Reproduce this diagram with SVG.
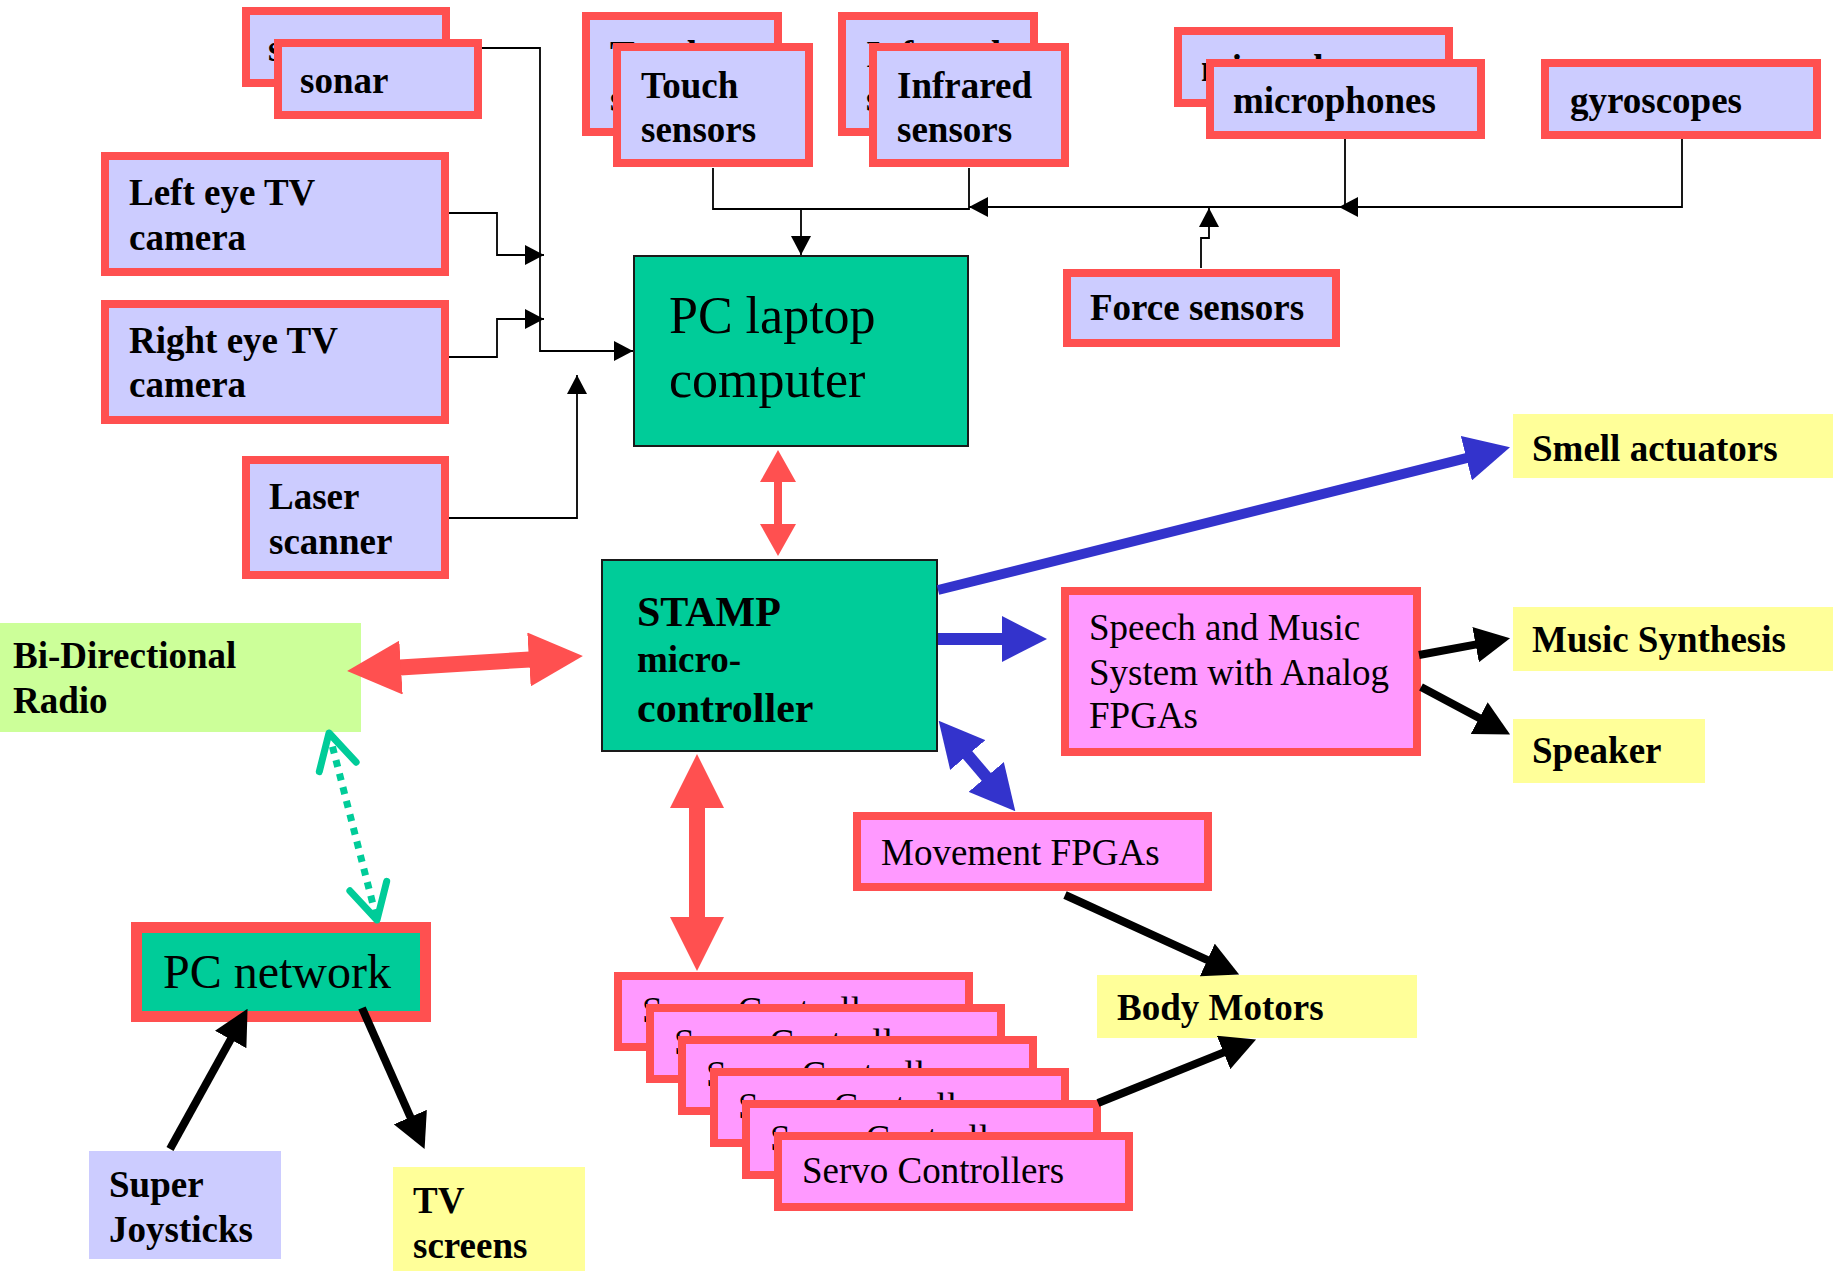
<svg xmlns="http://www.w3.org/2000/svg" width="1839" height="1271" viewBox="0 0 1839 1271">
  <style>
    .lav { fill: #CCCCFF; stroke: #FF5050; stroke-width: 8; }
    .pink { fill: #FF99FF; stroke: #FF5050; stroke-width: 8; }
    .cpu { fill: #00CC99; stroke: #1a1a1a; stroke-width: 2; }
    .b { font-family: "Liberation Serif", "Times New Roman", serif; font-weight: bold; font-size: 37px; fill: #000; }
    .r { font-family: "Liberation Serif", "Times New Roman", serif; font-size: 37px; fill: #000; }
    .thin { fill: none; stroke: #000; stroke-width: 1.8; }
    .red { fill: none; stroke: #FF5050; }
    .blue { fill: none; stroke: #3333CC; }
    .blk { fill: none; stroke: #000; stroke-width: 8; }
  </style>
  <defs>
    <marker id="tri" markerUnits="userSpaceOnUse" viewBox="0 0 19 20" markerWidth="19" markerHeight="20" refX="19" refY="10" orient="auto">
      <path d="M0,0 L19,10 L0,20 z" fill="#000"/>
    </marker>
    <marker id="redBig" markerUnits="userSpaceOnUse" viewBox="0 0 54 54" markerWidth="54" markerHeight="54" refX="1" refY="27" orient="auto-start-reverse">
      <path d="M0,0 L54,27 L0,54 z" fill="#FF5050"/>
    </marker>
    <marker id="redSmall" markerUnits="userSpaceOnUse" viewBox="0 0 32 36" markerWidth="32" markerHeight="36" refX="1" refY="18" orient="auto-start-reverse">
      <path d="M0,0 L32,18 L0,36 z" fill="#FF5050"/>
    </marker>
    <marker id="blueHead" markerUnits="userSpaceOnUse" viewBox="0 0 45 46" markerWidth="45" markerHeight="46" refX="1" refY="23" orient="auto-start-reverse">
      <path d="M0,0 L45,23 L0,46 z" fill="#3333CC"/>
    </marker>
    <marker id="blkHead" markerUnits="userSpaceOnUse" viewBox="0 0 35 36" markerWidth="35" markerHeight="36" refX="1" refY="18" orient="auto">
      <path d="M0,0 L35,18 L0,36 z" fill="#000"/>
    </marker>
    <marker id="chev" markerUnits="userSpaceOnUse" viewBox="-40 -25 45 50" markerWidth="45" markerHeight="50" refX="0" refY="0" orient="auto-start-reverse">
      <path d="M-35,-19 L0,0 L-35,19" fill="none" stroke="#00CC99" stroke-width="7" stroke-linecap="round" stroke-linejoin="round"/>
    </marker>
  </defs>

  <!-- sensor inputs -->
  <g id="sonar-back"><rect class="lav" x="246" y="11" width="200" height="72"/><text class="b" x="268" y="61">sonar</text></g>
  <g id="sonar"><rect class="lav" x="278" y="43" width="200" height="72"/><text class="b" x="300" y="93">sonar</text></g>

  <g id="touch-back"><rect class="lav" x="586" y="16" width="192" height="116"/><text class="b" x="610" y="67">Touch</text><text class="b" x="610" y="111">sensors</text></g>
  <g id="touch"><rect class="lav" x="617" y="47" width="192" height="116"/><text class="b" x="641" y="98">Touch</text><text class="b" x="641" y="142">sensors</text></g>

  <g id="infrared-back"><rect class="lav" x="842" y="16" width="192" height="116"/><text class="b" x="866" y="67">Infrared</text><text class="b" x="866" y="111">sensors</text></g>
  <g id="infrared"><rect class="lav" x="873" y="47" width="192" height="116"/><text class="b" x="897" y="98">Infrared</text><text class="b" x="897" y="142">sensors</text></g>

  <g id="microphones-back"><rect class="lav" x="1178" y="31" width="271" height="72"/><text class="b" x="1201" y="81">microphones</text></g>
  <g id="microphones"><rect class="lav" x="1210" y="63" width="271" height="72"/><text class="b" x="1233" y="113">microphones</text></g>

  <g id="gyroscopes"><rect class="lav" x="1545" y="63" width="272" height="72"/><text class="b" x="1570" y="113">gyroscopes</text></g>

  <g id="force-sensors"><rect class="lav" x="1067" y="273" width="269" height="70"/><text class="b" x="1090" y="320">Force sensors</text></g>

  <g id="left-eye"><rect class="lav" x="105" y="156" width="340" height="116"/><text class="b" x="129" y="205">Left eye TV</text><text class="b" x="129" y="250">camera</text></g>
  <g id="right-eye"><rect class="lav" x="105" y="304" width="340" height="116"/><text class="b" x="129" y="353">Right eye TV</text><text class="b" x="129" y="397">camera</text></g>
  <g id="laser"><rect class="lav" x="246" y="460" width="199" height="115"/><text class="b" x="269" y="509">Laser</text><text class="b" x="269" y="554">scanner</text></g>

  <!-- processors -->
  <g id="pc-laptop"><rect class="cpu" x="634" y="256" width="334" height="190"/>
    <text class="r" style="font-size:52px" x="669" y="333">PC laptop</text>
    <text class="r" style="font-size:52px" x="669" y="397">computer</text></g>

  <g id="stamp"><rect class="cpu" x="602" y="560" width="335" height="191"/>
    <text class="b" style="font-size:42px" x="637" y="626">STAMP</text>
    <text class="b" x="637" y="672">micro-</text>
    <text class="b" style="font-size:42px" x="637" y="722">controller</text></g>

  <g id="radio"><rect fill="#CCFF99" x="0" y="623" width="361" height="109"/>
    <text class="b" x="13" y="668">Bi-Directional</text><text class="b" x="13" y="713">Radio</text></g>

  <g id="pc-network"><rect fill="#00CC99" stroke="#FF5050" stroke-width="11" x="136.5" y="927.5" width="289" height="89"/>
    <text class="r" style="font-size:48px" x="163" y="988">PC network</text></g>

  <g id="joysticks"><rect fill="#CCCCFF" x="89" y="1151" width="192" height="108"/>
    <text class="b" x="109" y="1197">Super</text><text class="b" x="109" y="1242">Joysticks</text></g>

  <g id="tv-screens"><rect fill="#FFFF99" x="393" y="1167" width="192" height="104"/>
    <text class="b" x="413" y="1213">TV</text><text class="b" x="413" y="1258">screens</text></g>

  <!-- output stages -->
  <g id="speech"><rect class="pink" x="1065" y="591" width="352" height="161"/>
    <text class="r" x="1089" y="640">Speech and Music</text>
    <text class="r" x="1089" y="685">System with Analog</text>
    <text class="r" x="1089" y="728">FPGAs</text></g>

  <g id="movement"><rect class="pink" x="857" y="816" width="351" height="71"/><text class="r" x="881" y="865">Movement FPGAs</text></g>

  <g id="servo-1"><rect class="pink" x="618" y="976" width="351" height="71"/><text class="r" x="642" y="1023">Servo Controllers</text></g>
  <g id="servo-2"><rect class="pink" x="650" y="1008" width="351" height="71"/><text class="r" x="674" y="1055">Servo Controllers</text></g>
  <g id="servo-3"><rect class="pink" x="682" y="1040" width="351" height="71"/><text class="r" x="706" y="1087">Servo Controllers</text></g>
  <g id="servo-4"><rect class="pink" x="714" y="1072" width="351" height="71"/><text class="r" x="738" y="1119">Servo Controllers</text></g>
  <g id="servo-5"><rect class="pink" x="746" y="1104" width="351" height="71"/><text class="r" x="770" y="1151">Servo Controllers</text></g>
  <g id="servo-6"><rect class="pink" x="778" y="1136" width="351" height="71"/><text class="r" x="802" y="1183">Servo Controllers</text></g>

  <g id="smell"><rect fill="#FFFF99" x="1513" y="414" width="320" height="64"/><text class="b" x="1532" y="461">Smell actuators</text></g>
  <g id="music"><rect fill="#FFFF99" x="1513" y="607" width="320" height="64"/><text class="b" x="1532" y="652">Music Synthesis</text></g>
  <g id="speaker"><rect fill="#FFFF99" x="1513" y="719" width="192" height="64"/><text class="b" x="1532" y="763">Speaker</text></g>
  <g id="body-motors"><rect fill="#FFFF99" x="1097" y="975" width="320" height="63"/><text class="b" x="1117" y="1020">Body Motors</text></g>

  <!-- connectors -->
  <g id="connectors">
    <path class="thin" d="M482,48 H540 V351 H633" marker-end="url(#tri)"/>
    <path class="thin" d="M449,213 H497 V255 H544" marker-end="url(#tri)"/>
    <path class="thin" d="M449,357 H497 V319 H544" marker-end="url(#tri)"/>
    <path class="thin" d="M449,518 H577 V375" marker-end="url(#tri)"/>
    <path class="thin" d="M713,168 V209 H969 V168"/>
    <path class="thin" d="M801,209 V255" marker-end="url(#tri)"/>
    <path class="thin" d="M1345,139 V207 H969" marker-end="url(#tri)"/>
    <path class="thin" d="M1682,139 V207 H1339" marker-end="url(#tri)"/>
    <path class="thin" d="M1201,268 V238 H1209 V208" marker-end="url(#tri)"/>

    <line class="red" stroke-width="8" x1="778" y1="481" x2="778" y2="525" marker-start="url(#redSmall)" marker-end="url(#redSmall)"/>
    <line class="red" stroke-width="16" x1="400" y1="667.6" x2="530" y2="659.4" marker-start="url(#redBig)" marker-end="url(#redBig)"/>
    <line class="red" stroke-width="16" x1="697" y1="807" x2="697" y2="918" marker-start="url(#redBig)" marker-end="url(#redBig)"/>

    <line class="blue" stroke-width="10" x1="938" y1="590" x2="1467.3" y2="457.9" marker-end="url(#blueHead)"/>
    <line class="blue" stroke-width="12" x1="938" y1="639" x2="1003" y2="639" marker-end="url(#blueHead)"/>
    <line class="blue" stroke-width="12" x1="967.1" y1="754.3" x2="986.9" y2="777.7" marker-start="url(#blueHead)" marker-end="url(#blueHead)"/>

    <line class="blk" stroke-width="7" x1="1419" y1="655" x2="1476.6" y2="644.4" marker-end="url(#blkHead)"/>
    <line class="blk" stroke-width="7" x1="1421" y1="687" x2="1480.1" y2="718.5" marker-end="url(#blkHead)"/>
    <line class="blk" x1="1065" y1="895" x2="1208.2" y2="960.4" marker-end="url(#blkHead)"/>
    <line class="blk" x1="1098" y1="1103" x2="1224.5" y2="1052.1" marker-end="url(#blkHead)"/>
    <line class="blk" x1="170" y1="1149" x2="231.1" y2="1038.6" marker-end="url(#blkHead)"/>
    <line class="blk" x1="362" y1="1008" x2="410.8" y2="1118" marker-end="url(#blkHead)"/>

    <line x1="329" y1="733" x2="377" y2="920" stroke="#00CC99" stroke-width="7" stroke-dasharray="7 7" marker-start="url(#chev)" marker-end="url(#chev)"/>
  </g>
</svg>
